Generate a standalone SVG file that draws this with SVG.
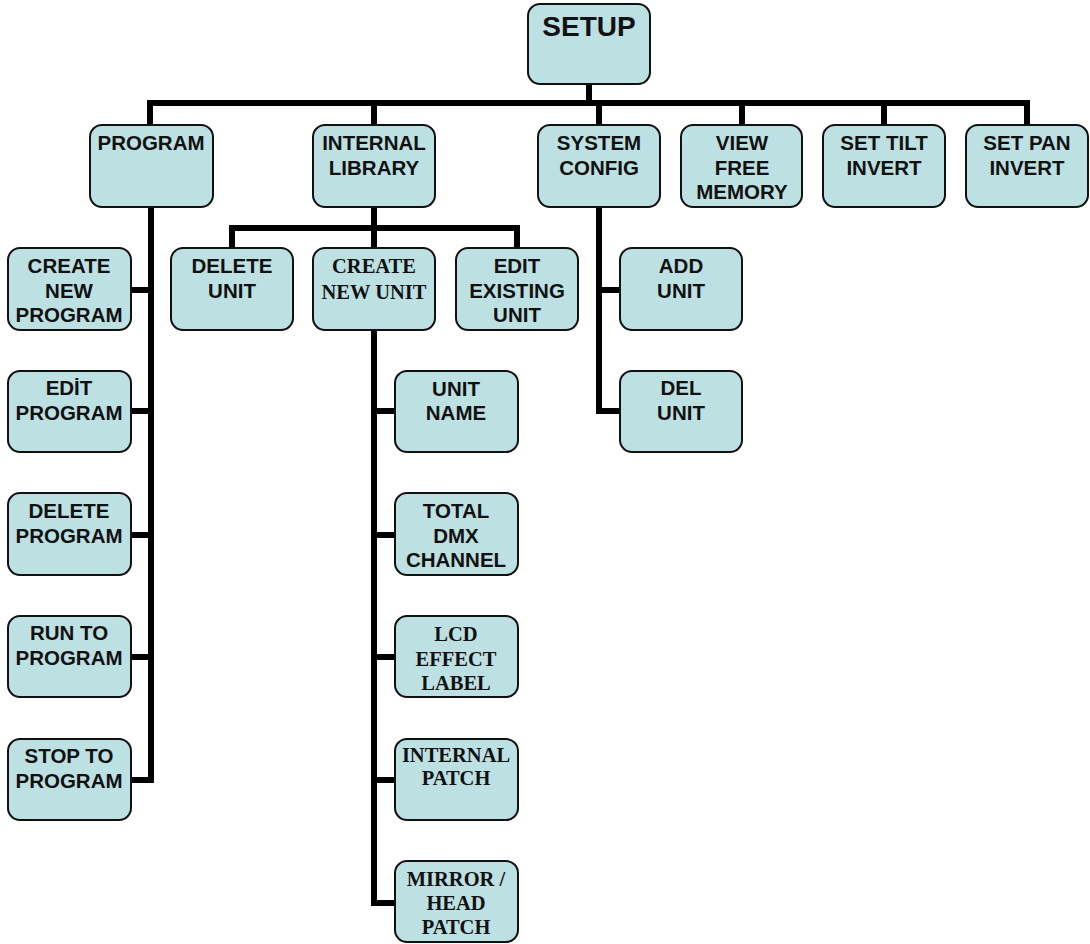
<svg xmlns="http://www.w3.org/2000/svg" width="1090" height="944" viewBox="0 0 1090 944">
<style>
.box{fill:#bde0e3;stroke:#111;stroke-width:2}
.s{font-family:"Liberation Sans",Arial,sans-serif;font-weight:bold;font-size:20.5px;fill:#111;text-anchor:middle}
.f{font-family:"Liberation Serif","Times New Roman",serif;font-weight:bold;font-size:20.5px;fill:#111;text-anchor:middle}
.c{fill:none;stroke:#000;stroke-width:6;stroke-linejoin:miter}
</style>
<rect width="1090" height="944" fill="#fff"/>
<g id="connectors">
<path class="c" d="M589 84V103M150 125V103H1027V125M374 103V125M599 103V125M742 103V125M884 103V125"/>
<path class="c" d="M151 207V780H131M131 290H151M131 411H151M131 535H151M131 657H151"/>
<path class="c" d="M374 207V228M232 248V228H517V248M374 228V248"/>
<path class="c" d="M374 330V903H395M374 411H395M374 535H395M374 657H395M374 780H395"/>
<path class="c" d="M599 207V411H620M599 290H620"/>
</g>
<g id="setup"><rect class="box" x="528" y="4" width="122" height="80" rx="12"/><text class="s" style="font-size:28px" x="589" y="36">SETUP</text></g>
<g id="program"><rect class="box" x="90" y="125" width="123" height="82" rx="12"/><text class="s" x="151" y="150">PROGRAM</text></g>
<g id="internal-library"><rect class="box" x="313" y="125" width="122" height="82" rx="12"/><text class="s" x="374" y="150">INTERNAL</text><text class="s" x="374" y="175">LIBRARY</text></g>
<g id="system-config"><rect class="box" x="538" y="125" width="122" height="82" rx="12"/><text class="s" x="599" y="150">SYSTEM</text><text class="s" x="599" y="175">CONFIG</text></g>
<g id="view-free-memory"><rect class="box" x="681" y="125" width="121" height="82" rx="12"/><text class="s" x="742" y="150">VIEW</text><text class="s" x="742" y="175">FREE</text><text class="s" x="742" y="199">MEMORY</text></g>
<g id="set-tilt-invert"><rect class="box" x="823" y="125" width="122" height="82" rx="12"/><text class="s" x="884" y="150">SET TILT</text><text class="s" x="884" y="175">INVERT</text></g>
<g id="set-pan-invert"><rect class="box" x="966" y="125" width="122" height="82" rx="12"/><text class="s" x="1027" y="150">SET PAN</text><text class="s" x="1027" y="175">INVERT</text></g>
<g id="create-new-program"><rect class="box" x="8" y="248" width="123" height="82" rx="12"/><text class="s" x="69" y="273">CREATE</text><text class="s" x="69" y="298">NEW</text><text class="s" x="69" y="322">PROGRAM</text></g>
<g id="edit-program"><rect class="box" x="8" y="371" width="123" height="81" rx="12"/><text class="s" x="69" y="395">EDİT</text><text class="s" x="69" y="420">PROGRAM</text></g>
<g id="delete-program"><rect class="box" x="8" y="493" width="123" height="82" rx="12"/><text class="s" x="69" y="518">DELETE</text><text class="s" x="69" y="543">PROGRAM</text></g>
<g id="run-to-program"><rect class="box" x="8" y="616" width="123" height="81" rx="12"/><text class="s" x="69" y="640">RUN TO</text><text class="s" x="69" y="665">PROGRAM</text></g>
<g id="stop-to-program"><rect class="box" x="8" y="739" width="123" height="81" rx="12"/><text class="s" x="69" y="763">STOP TO</text><text class="s" x="69" y="788">PROGRAM</text></g>
<g id="delete-unit"><rect class="box" x="171" y="248" width="122" height="82" rx="12"/><text class="s" x="232" y="273">DELETE</text><text class="s" x="232" y="298">UNIT</text></g>
<g id="create-new-unit"><rect class="box" x="313" y="248" width="122" height="82" rx="12"/><text class="f" x="374" y="273">CREATE</text><text class="f" x="374" y="299">NEW UNIT</text></g>
<g id="edit-existing-unit"><rect class="box" x="456" y="248" width="122" height="82" rx="12"/><text class="s" x="517" y="273">EDIT</text><text class="s" x="517" y="298">EXISTING</text><text class="s" x="517" y="322">UNIT</text></g>
<g id="add-unit"><rect class="box" x="620" y="248" width="122" height="82" rx="12"/><text class="s" x="681" y="273">ADD</text><text class="s" x="681" y="298">UNIT</text></g>
<g id="del-unit"><rect class="box" x="620" y="371" width="122" height="81" rx="12"/><text class="s" x="681" y="395">DEL</text><text class="s" x="681" y="420">UNIT</text></g>
<g id="unit-name"><rect class="box" x="395" y="371" width="123" height="81" rx="12"/><text class="s" x="456" y="396">UNIT</text><text class="s" x="456" y="420">NAME</text></g>
<g id="total-dmx-channel"><rect class="box" x="395" y="493" width="123" height="82" rx="12"/><text class="s" x="456" y="518">TOTAL</text><text class="s" x="456" y="543">DMX</text><text class="s" x="456" y="567">CHANNEL</text></g>
<g id="lcd-effect-label"><rect class="box" x="395" y="616" width="123" height="81" rx="12"/><text class="f" x="456" y="641">LCD</text><text class="f" x="456" y="666">EFFECT</text><text class="f" x="456" y="690">LABEL</text></g>
<g id="internal-patch"><rect class="box" x="395" y="739" width="123" height="81" rx="12"/><text class="f" x="456" y="762">INTERNAL</text><text class="f" x="456" y="785">PATCH</text></g>
<g id="mirror-head-patch"><rect class="box" x="395" y="861" width="123" height="81" rx="12"/><text class="f" x="456" y="886">MIRROR /</text><text class="f" x="456" y="910">HEAD</text><text class="f" x="456" y="934">PATCH</text></g>
</svg>
